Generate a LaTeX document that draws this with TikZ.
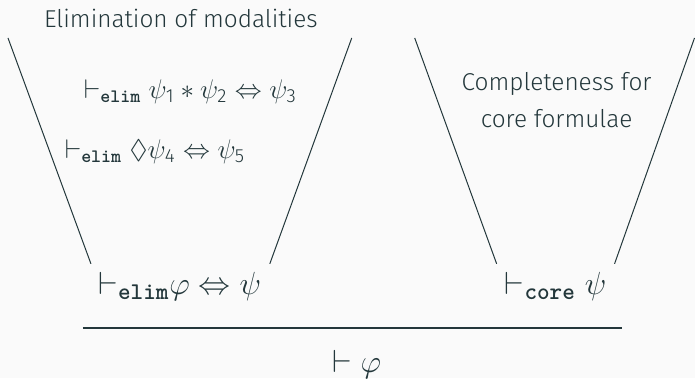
\RequirePackage{fix-cm}
\documentclass[tikz,border=0pt]{standalone}
\usepackage{amsmath,amssymb}
\usepackage{fontspec}
\setmainfont{Fira Sans}[UprightFont={* Light}]
\usepackage{xcolor}
\usepackage{tikz}
\usetikzlibrary{positioning}

\definecolor{mDarkTeal}{HTML}{23373B}
\definecolor{mBackground}{HTML}{FAFAFA}

\DeclareMathSizes{13.5}{13.5}{9.5}{7}
\DeclareMathSizes{16}{16}{12}{8.5}

\newcommand{\vdelim}{\vdash_{\text{\ttfamily\bfseries elim}}}
\newcommand{\vdcore}{\vdash_{\text{\ttfamily\bfseries core}}}
\newcommand{\ix}[1]{\text{#1}}

\begin{document}
\begin{tikzpicture}[
  x=0.5pt, y=-0.5pt,
  font=\fontsize{12.2}{15}\selectfont,
  text=mDarkTeal,
  lbl/.style={anchor=base, inner sep=0pt},
  formula/.style={lbl, font=\fontsize{13.5}{16}\selectfont},
  bigformula/.style={lbl, font=\fontsize{16}{19}\selectfont},
  funnel/.style={draw=mDarkTeal, line width=0.5pt},
  rule/.style={draw=mDarkTeal, line width=0.9pt}
]
  % Background
  \fill[mBackground] (0,0) rectangle (695,378);

  % Funnel corners
  \coordinate (elimTL) at (8,38);
  \coordinate (elimBL) at (91,264);
  \coordinate (elimTR) at (352,38);
  \coordinate (elimBR) at (270,264);
  \coordinate (coreTL) at (415,38);
  \coordinate (coreBL) at (497,264);
  \coordinate (coreTR) at (695,38);
  \coordinate (coreBR) at (615,264);

  % Left funnel: elimination
  \node[lbl] (elimtitle) at (181,27.5) {Elimination of modalities};
  \node[formula] (star) at (190.5,98.5) {$\vdelim \psi_{\ix{1}} * \psi_{\ix{2}} \Leftrightarrow \psi_{\ix{3}}$};
  \node[formula] (diam) at (155,158.5) {$\vdelim \Diamond\psi_{\ix{4}} \Leftrightarrow \psi_{\ix{5}}$};
  \node[bigformula] (elim) at (180,295) {$\mathord{\vdelim}\varphi \Leftrightarrow \psi$};

  % Right funnel: core formulae
  \node[lbl, align=center, font=\fontsize{12.2}{18.7}\selectfont] (coretitle) at (557,128)
    {Completeness for\\core formulae};
  \node[bigformula] (core) at (556,295) {$\vdcore \psi$};

  % Conclusion
  \node[bigformula] (goal) at (357,373) {$\vdash \varphi$};

  % Lines
  \draw[funnel] (elimTL) -- (elimBL);
  \draw[funnel] (elimTR) -- (elimBR);
  \draw[funnel] (coreTL) -- (coreBL);
  \draw[funnel] (coreTR) -- (coreBR);
  \draw[rule] (83,328.5) -- (622,328.5);
\end{tikzpicture}
\end{document}
